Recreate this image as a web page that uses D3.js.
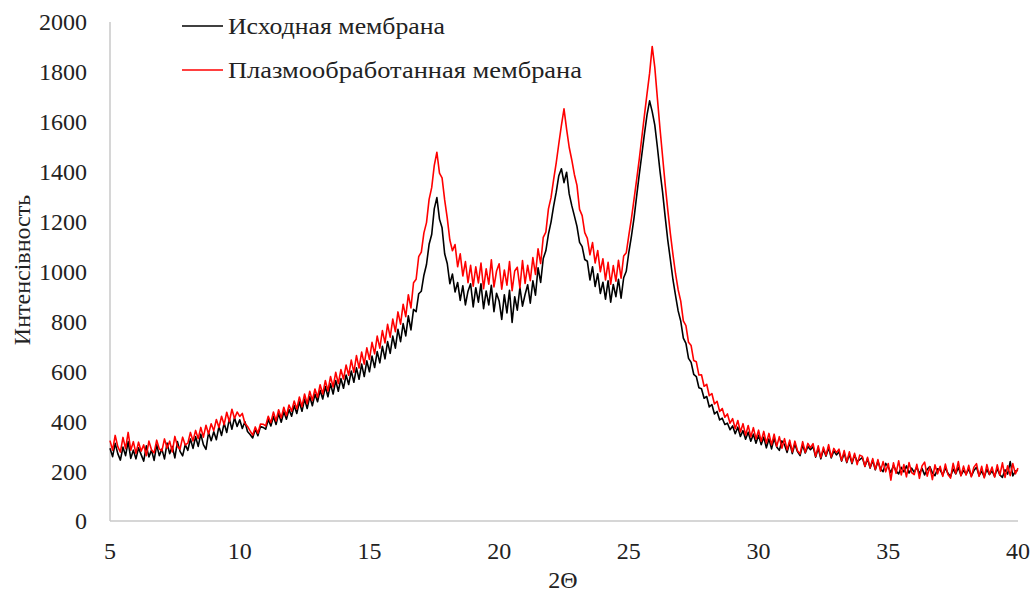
<!DOCTYPE html>
<html>
<head>
<meta charset="utf-8">
<script src="https://cdn.jsdelivr.net/npm/d3@7"></script>
<style>
  body { margin: 0; background: #fff; }
  text { font-family: "Liberation Serif", "Times New Roman", serif; fill: #222; }
</style>
</head>
<body>
<div class="chart"></div>
<script>
var width = 1034;
var height = 592;

// 2-theta from 5 to 40, step 0.1
var xStart = 5, xStep = 0.1;
var xTicks = [5, 10, 15, 20, 25, 30, 35, 40];
var yTicks = [0, 200, 400, 600, 800, 1000, 1200, 1400, 1600, 1800, 2000];
var seriesNames = ["Исходная мембрана", "Плазмообработанная мембрана"];

// original membrane
var initial = [
  292, 258, 311, 270, 244, 296, 262, 318, 251, 284,
  249, 293, 266, 240, 301, 257, 284, 243, 305, 262,
  288, 249, 312, 270, 299, 253, 318, 279, 261, 306,
  283, 329, 291, 338, 299, 348, 306, 287, 355, 322,
  358, 326, 379, 343, 392, 355, 409, 368, 414, 379,
  406, 371, 398, 359, 347, 333, 368, 342, 379, 375,
  368, 407, 381, 419, 387, 431, 396, 438, 408, 447,
  420, 463, 431, 478, 440, 489, 451, 499, 462, 509,
  478, 524, 489, 539, 498, 550, 509, 563, 520, 571,
  532, 585, 547, 601, 556, 614, 568, 629, 579, 642,
  598, 661, 615, 679, 634, 700, 650, 719, 672, 741,
  693, 768, 719, 791, 742, 822, 766, 848, 839, 911,
  921, 985, 1028, 1109, 1148, 1252, 1296, 1210, 1175, 1071,
  1032, 951, 990, 918, 956, 884, 943, 866, 921, 951,
  858, 935, 877, 951, 851, 922, 866, 945, 839, 913,
  882, 808, 907, 834, 925, 796, 899, 845, 936, 861,
  908, 947, 873, 963, 905, 1015, 956, 1052, 1083, 1150,
  1198, 1262, 1318, 1384, 1412, 1356, 1398, 1311, 1264, 1223,
  1181, 1117, 1100, 1048, 1041, 966, 1019, 940, 991, 912,
  957, 889, 963, 877, 948, 899, 969, 893, 975, 1001,
  1078, 1142, 1215, 1302, 1388, 1469, 1552, 1628, 1684, 1641,
  1587, 1498, 1402, 1318, 1219, 1126, 1048, 967, 903, 842,
  801, 733, 712, 652, 636, 588, 579, 534, 530, 492,
  499, 457, 467, 429, 439, 405, 412, 387, 392, 366,
  381, 350, 376, 339, 362, 328, 356, 320, 348, 312,
  344, 306, 336, 293, 329, 289, 331, 297, 283, 321,
  306, 275, 315, 270, 308, 278, 262, 305, 273, 299,
  286, 298, 256, 291, 249, 287, 260, 294, 253, 281,
  265, 278, 240, 272, 234, 267, 230, 264, 238, 246,
  254, 219, 249, 212, 243, 205, 239, 209, 198, 231,
  216, 194, 223, 200, 189, 215, 197, 221, 192, 212,
  195, 216, 190, 211, 185, 207, 218, 193, 182, 209,
  205, 184, 213, 191, 178, 208, 189, 215, 183, 203,
  188, 209, 180, 202, 215, 182, 200, 177, 207, 186,
  201, 179, 210, 185, 175, 205, 188, 238, 181, 200,
  203
];

// plasma treated membrane
var treated = [
  322, 284, 343, 298, 276, 335, 290, 355, 284, 318,
  271, 316, 280, 305, 262, 320, 286, 273, 324, 289,
  281, 329, 292, 320, 277, 339, 299, 288, 336, 305,
  312, 355, 321, 363, 330, 375, 336, 384, 349, 390,
  362, 407, 375, 420, 386, 436, 398, 448, 411, 437,
  419, 431, 392, 379, 361, 344, 377, 352, 389, 388,
  381, 420, 394, 437, 401, 446, 413, 456, 422, 465,
  440, 481, 449, 497, 458, 509, 470, 520, 483, 529,
  496, 546, 509, 563, 521, 579, 537, 596, 551, 607,
  569, 625, 584, 645, 596, 663, 613, 677, 629, 694,
  648, 716, 670, 741, 693, 763, 714, 788, 737, 809,
  759, 838, 789, 869, 819, 907, 854, 955, 969, 1060,
  1078, 1155, 1196, 1289, 1336, 1425, 1478, 1394, 1375, 1287,
  1214, 1126, 1083, 1108, 1019, 1071, 982, 1040, 955, 1025,
  941, 1019, 954, 1034, 931, 1011, 949, 1047, 938, 1002,
  1031, 929, 1006, 945, 1040, 923, 1002, 1017, 934, 1044,
  952, 1025, 963, 1056, 988, 1091, 1032, 1137, 1158, 1251,
  1296, 1368, 1435, 1512, 1586, 1652, 1571, 1498, 1447, 1389,
  1345, 1249, 1224, 1156, 1133, 1067, 1116, 1034, 1084, 999,
  1051, 966, 1037, 949, 1024, 961, 1045, 973, 1062, 1075,
  1146, 1213, 1290, 1368, 1449, 1538, 1626, 1712, 1795, 1902,
  1818, 1694, 1573, 1461, 1348, 1247, 1152, 1068, 991, 927,
  881, 802, 783, 716, 703, 643, 638, 585, 586, 540,
  548, 502, 511, 469, 480, 439, 451, 416, 429, 392,
  410, 370, 403, 357, 390, 344, 383, 337, 374, 329,
  364, 319, 359, 312, 351, 305, 348, 299, 338, 292,
  330, 285, 324, 277, 320, 282, 269, 318, 275, 311,
  294, 310, 259, 301, 254, 296, 263, 306, 256, 291,
  274, 288, 242, 282, 237, 277, 234, 271, 226, 264,
  259, 219, 255, 214, 250, 207, 246, 200, 238, 197,
  230, 164, 233, 191, 241, 185, 226, 177, 234, 194,
  186, 227, 171, 221, 236, 180, 217, 166, 225, 189,
  219, 179, 228, 186, 172, 231, 190, 238, 181, 220,
  184, 223, 177, 216, 230, 179, 219, 173, 226, 187,
  216, 176, 225, 184, 233, 175, 221, 182, 230, 189,
  212
];

var colors = ["#000000", "#ff0000"];

var svg = d3.select('.chart').append('svg').attr('width', width).attr('height', height);

var x = d3.scaleLinear().domain([5, 40]).range([110, 1018]);
var y = d3.scaleLinear().domain([0, 2000]).range([521, 22]);

// axis lines (no tick marks in the original)
svg.append('line')
  .attr('x1', x(5)).attr('x2', x(5))
  .attr('y1', y(0)).attr('y2', y(2000))
  .attr('stroke', '#c9c9c9').attr('stroke-width', 1.5);
svg.append('line')
  .attr('x1', x(5)).attr('x2', x(40))
  .attr('y1', y(0)).attr('y2', y(0))
  .attr('stroke', '#c9c9c9').attr('stroke-width', 1.5);

svg.selectAll('.ytick')
  .data(yTicks).enter()
  .append('text')
  .attr('class', 'ytick')
  .attr('x', 87)
  .attr('y', function(d){ return y(d); })
  .attr('dy', '0.35em')
  .attr('text-anchor', 'end')
  .style('font-size', '24px')
  .text(function(d){ return d; });

svg.selectAll('.xtick')
  .data(xTicks).enter()
  .append('text')
  .attr('class', 'xtick')
  .attr('x', function(d){ return x(d); })
  .attr('y', 551)
  .attr('dy', '0.35em')
  .attr('text-anchor', 'middle')
  .style('font-size', '24px')
  .text(function(d){ return d; });

svg.append('text')
  .attr('transform', 'translate(22,270) rotate(-90)')
  .attr('dy', '0.35em')
  .attr('text-anchor', 'middle')
  .style('font-size', '24px')
  .text('Интенсівность');

svg.append('text')
  .attr('x', 563).attr('y', 580)
  .attr('dy', '0.35em')
  .attr('text-anchor', 'middle')
  .style('font-size', '24px')
  .text('2Θ');

var line = d3.line()
  .x(function(d, i){ return x(xStart + i * xStep); })
  .y(function(d){ return y(d); });

svg.selectAll('path.series')
  .data([initial, treated]).enter()
  .append('path')
  .attr('class', 'series')
  .attr('fill', 'none')
  .attr('stroke', function(d, i){ return colors[i]; })
  .attr('stroke-width', 1.6)
  .attr('stroke-linejoin', 'round')
  .attr('d', line);

// legend
var legend = svg.selectAll('.legend')
  .data(seriesNames).enter()
  .append('g')
  .attr('class', 'legend')
  .attr('transform', function(d, i){ return 'translate(182,' + (26 + i * 44) + ')'; });
legend.append('line')
  .attr('x1', 0).attr('x2', 41)
  .attr('stroke', function(d, i){ return colors[i]; })
  .attr('stroke-width', 1.5);
legend.append('text')
  .attr('x', 46)
  .attr('dy', '0.35em')
  .style('font-size', '24px')
  .attr('textLength', function(d, i){ return i === 0 ? 217 : 354; })
  .attr('lengthAdjust', 'spacingAndGlyphs')
  .text(function(d){ return d; });
</script>
</body>
</html>
